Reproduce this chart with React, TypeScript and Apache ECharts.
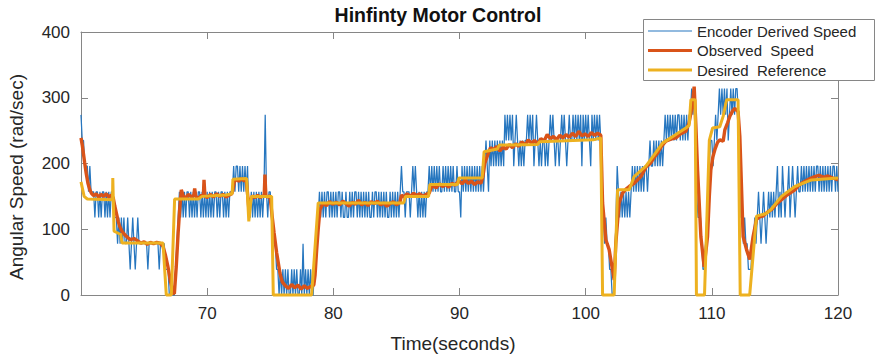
import React, { useEffect, useRef } from "react";
import * as echarts from "echarts";

const FONT = '"Liberation Sans", Arial, Helvetica, sans-serif';

const chartTitle = "Hinfinty Motor Control";
const xAxisTitle = "Time(seconds)";
const yAxisTitle = "Angular Speed (rad/sec)";
const seriesNames = ["Encoder Derived Speed", "Observed  Speed", "Desired  Reference"];
const seriesColors = ["#2676bf", "#D95319", "#EDB120"];

// Encoder derived speed: sampled every 0.1 s, one row per second (60 s ... 119.9 s)
const encoderStartTime = 60;
const encoderSampleStep = 0.1;
const encoderSpeedRows: number[][] = [
  [274, 235, 235, 196, 196, 196, 157, 196, 157, 157], // 60
  [157, 118, 157, 157, 118, 157, 118, 157, 157, 118], // 61
  [157, 118, 157, 118, 157, 157, 118, 118, 118, 78], // 62
  [118, 78, 118, 78, 118, 78, 78, 118, 78, 39], // 63
  [78, 118, 78, 39, 78, 118, 78, 78, 78, 78], // 64
  [78, 78, 78, 39, 78, 78, 78, 78, 78, 78], // 65
  [78, 78, 39, 78, 78, 78, 78, 39, 39, 39], // 66
  [0, 0, 39, 0, 0, 39, 78, 118, 157, 118], // 67
  [157, 118, 157, 118, 157, 157, 118, 157, 118, 157], // 68
  [118, 157, 118, 157, 157, 118, 157, 118, 157, 118], // 69
  [157, 118, 157, 118, 157, 118, 157, 157, 118, 157], // 70
  [118, 157, 157, 118, 157, 118, 157, 118, 157, 157], // 71
  [157, 196, 157, 196, 196, 157, 196, 157, 196, 157], // 72
  [196, 157, 196, 118, 118, 157, 118, 157, 118, 157], // 73
  [118, 157, 118, 157, 118, 157, 274, 157, 118, 157], // 74
  [157, 118, 118, 78, 78, 39, 39, 0, 39, 0], // 75
  [39, 0, 39, 0, 39, 0, 0, 39, 0, 39], // 76
  [0, 39, 0, 0, 39, 0, 78, 0, 39, 0], // 77
  [39, 0, 39, 0, 0, 39, 78, 78, 118, 157], // 78
  [118, 157, 118, 157, 118, 157, 157, 118, 157, 118], // 79
  [157, 118, 157, 118, 157, 157, 118, 157, 118, 118], // 80
  [157, 118, 118, 157, 118, 157, 118, 157, 157, 118], // 81
  [157, 118, 157, 118, 157, 118, 157, 118, 157, 118], // 82
  [118, 157, 118, 157, 157, 118, 157, 118, 157, 118], // 83
  [157, 118, 157, 118, 118, 157, 118, 157, 118, 157], // 84
  [118, 157, 118, 157, 196, 157, 157, 118, 157, 157], // 85
  [157, 118, 157, 196, 157, 196, 157, 118, 157, 118], // 86
  [157, 118, 157, 118, 157, 157, 196, 157, 196, 157], // 87
  [196, 157, 196, 157, 196, 157, 157, 196, 157, 196], // 88
  [157, 196, 157, 196, 157, 196, 157, 157, 196, 157], // 89
  [157, 118, 196, 157, 196, 157, 196, 157, 196, 157], // 90
  [196, 157, 196, 157, 196, 157, 196, 157, 196, 157], // 91
  [196, 235, 196, 157, 235, 196, 235, 196, 235, 196], // 92
  [235, 196, 235, 196, 235, 196, 274, 235, 274, 235], // 93
  [274, 235, 274, 196, 235, 274, 235, 196, 235, 196], // 94
  [235, 196, 235, 235, 274, 235, 274, 235, 274, 196], // 95
  [235, 274, 235, 196, 235, 196, 235, 235, 196, 235], // 96
  [196, 235, 274, 235, 274, 235, 196, 235, 235, 196], // 97
  [235, 274, 235, 274, 235, 196, 235, 274, 235, 235], // 98
  [274, 235, 274, 235, 274, 235, 274, 196, 274, 235], // 99
  [274, 235, 274, 235, 196, 274, 235, 274, 235, 274], // 100
  [235, 274, 235, 157, 118, 78, 118, 78, 78, 39], // 101
  [39, 0, 0, 39, 118, 196, 157, 118, 157, 118], // 102
  [157, 118, 157, 118, 157, 118, 157, 196, 157, 196], // 103
  [157, 196, 157, 196, 157, 196, 157, 196, 196, 157], // 104
  [196, 235, 196, 196, 235, 196, 235, 196, 235, 196], // 105
  [235, 196, 235, 274, 235, 274, 235, 274, 235, 274], // 106
  [235, 274, 235, 274, 274, 235, 274, 235, 274, 235], // 107
  [274, 235, 274, 274, 314, 274, 314, 235, 157, 118], // 108
  [118, 118, 78, 39, 39, 78, 118, 157, 196, 235], // 109
  [235, 196, 235, 274, 235, 274, 314, 274, 314, 274], // 110
  [314, 274, 314, 235, 274, 314, 274, 314, 274, 314], // 111
  [314, 274, 196, 118, 118, 78, 118, 78, 78, 39], // 112
  [39, 39, 78, 78, 118, 78, 118, 157, 118, 78], // 113
  [118, 157, 118, 78, 118, 157, 118, 157, 118, 157], // 114
  [118, 157, 196, 118, 157, 118, 196, 157, 118, 157], // 115
  [157, 196, 118, 157, 196, 157, 118, 157, 196, 157], // 116
  [157, 196, 157, 196, 157, 196, 157, 196, 157, 196], // 117
  [157, 196, 157, 196, 196, 157, 196, 157, 196, 157], // 118
  [196, 157, 196, 157, 196, 157, 196, 196, 157, 196], // 119
];
const encoderFinalSpeed = 157; // at 120 s

// Observed speed
const observedTime = [
  60.0, 60.1, 60.2, 60.29, 60.42, 60.55, 60.7, 60.82, 61.0, 61.2, 61.4, 61.6, 61.8, 62.0, 62.2, 62.4,
  62.55, 62.68, 62.8, 62.95, 63.07, 63.25, 63.45, 63.72, 63.95, 64.2, 64.52, 64.75, 65.0, 65.25, 65.5,
  65.75, 66.0, 66.24, 66.5, 66.7, 66.89, 67.1, 67.29, 67.4, 67.55, 67.7, 67.82, 67.95, 68.1, 68.3, 68.5,
  68.75, 68.95, 69.01, 69.1, 69.3, 69.55, 69.7, 69.75, 69.82, 70.0, 70.25, 70.5, 70.75, 71.0, 71.25,
  71.5, 71.75, 71.95, 72.04, 72.15, 72.3, 72.5, 72.7, 72.9, 73.1, 73.22, 73.31, 73.45, 73.6, 73.8, 74.0,
  74.2, 74.4, 74.52, 74.58, 74.65, 74.8, 74.98, 75.15, 75.3, 75.51, 75.77, 75.95, 76.2, 76.45, 76.7,
  76.95, 77.2, 77.45, 77.7, 77.95, 78.2, 78.45, 78.55, 78.68, 78.8, 78.94, 79.2, 79.45, 79.7, 79.95,
  80.25, 80.5, 80.75, 81.0, 81.25, 81.5, 81.75, 82.0, 82.25, 82.5, 82.75, 83.0, 83.25, 83.5, 83.75, 84.0,
  84.25, 84.5, 84.75, 85.0, 85.28, 85.4, 85.6, 85.85, 86.1, 86.36, 86.6, 86.85, 87.1, 87.35, 87.6, 87.75,
  87.9, 88.15, 88.4, 88.65, 88.9, 89.15, 89.4, 89.65, 89.95, 90.2, 90.45, 90.7, 90.95, 91.2, 91.45, 91.7,
  91.85, 92.0, 92.2, 92.45, 92.7, 92.95, 93.2, 93.45, 93.7, 93.95, 94.2, 94.45, 94.7, 94.95, 95.2, 95.45,
  95.7, 95.95, 96.2, 96.45, 96.7, 96.95, 97.2, 97.45, 97.7, 97.95, 98.2, 98.45, 98.7, 98.95, 99.2, 99.45,
  99.7, 99.95, 100.2, 100.45, 100.7, 100.95, 101.2, 101.34, 101.6, 101.86, 102.13, 102.26, 102.39,
  102.65, 102.92, 103.2, 103.45, 103.84, 104.1, 104.37, 104.8, 105.16, 105.45, 105.7, 106.0, 106.36,
  106.75, 107.15, 107.5, 107.94, 108.2, 108.35, 108.47, 108.6, 108.73, 108.87, 109.0, 109.13, 109.39,
  109.55, 109.66, 109.8, 109.92, 110.08, 110.24, 110.45, 110.63, 110.9, 111.03, 111.25, 111.43, 111.65,
  111.82, 111.95, 112.08, 112.22, 112.35, 112.48, 112.75, 112.9, 113.01, 113.27, 113.54, 113.8, 114.06,
  114.4, 114.73, 115.1, 115.52, 115.9, 116.2, 116.58, 116.85, 117.11, 117.5, 117.8, 118.16, 118.5,
  118.85, 119.2, 119.6, 120.0,
];
const observedSpeed = [
  239, 228, 214, 201, 184, 170, 160, 155, 151, 154, 149, 153, 150, 154, 149, 152,
  148, 135, 125, 112, 104, 97, 92, 87, 84, 86, 82, 79, 81, 77, 80,
  78, 80, 79, 74, 60, 43, 20, 3, 2, 43, 95, 130, 160, 151, 147, 153,
  149, 152, 162, 150, 147, 152, 150, 175, 151, 148, 153, 149, 154, 150, 153,
  149, 152, 154, 160, 172, 176, 173, 177, 174, 175, 150, 130, 145, 151, 148, 152,
  148, 151, 150, 183, 151, 149, 151, 120, 95, 64, 33, 20, 14, 10, 16,
  11, 15, 9, 14, 10, 13, 15, 30, 69, 100, 130, 140, 136, 142, 138,
  141, 137, 143, 139, 135, 141, 138, 144, 137, 141, 136, 142, 139, 143, 137, 140,
  135, 139, 142, 137, 141, 152, 149, 154, 150, 155, 151, 154, 150, 153, 155, 163,
  166, 163, 169, 165, 168, 164, 170, 167, 174, 169, 175, 170, 173, 168, 172, 170,
  180, 200, 211, 224, 221, 226, 219, 225, 222, 229, 224, 230, 226, 233, 228, 236,
  231, 235, 230, 238, 234, 244, 238, 241, 236, 243, 239, 244, 240, 246, 241, 249,
  242, 245, 241, 247, 243, 246, 243, 140, 84, 69, 38, 23, 79,
  140, 155, 161, 165, 170, 175, 180, 195, 201, 210, 216, 226, 234,
  237, 239, 245, 249, 262, 278, 292, 317, 260, 190, 140, 89, 43,
  70, 89, 150, 190, 210, 221, 232, 236, 234, 251, 262, 272, 280,
  284, 281, 279, 241, 165, 89, 69, 60, 54, 89, 115, 119, 120,
  126, 130, 138, 145, 151, 155, 160, 166, 170, 174, 177, 180, 182,
  179, 181, 178, 175,
];

// Desired reference
const referenceTime = [
  60.0, 60.25, 60.5, 62.5, 62.52, 62.62, 63.15, 63.25, 66.5, 66.76, 67.16, 67.42, 69.3, 69.6, 71.5,
  71.98, 72.04, 73.13, 73.3, 73.5, 75.11, 75.24, 78.28, 78.8, 85.57, 85.72, 87.55, 87.65, 89.85, 89.95,
  91.8, 91.95, 93.0, 93.15, 96.2, 96.35, 100.6, 101.2, 101.34, 102.26, 102.53, 103.45, 103.84, 104.77,
  105.43, 106.09, 107.15, 107.94, 108.2, 108.34, 108.68, 108.78, 109.42, 109.8, 110.06, 110.63, 110.9,
  111.17, 112.08, 112.25, 113.0, 113.54, 114.33, 114.68, 115.52, 116.58, 117.9, 120.0,
];
const referenceSpeed = [
  172, 150, 146, 145, 178, 97, 92, 79, 79, 0, 0, 146, 146, 150, 152,
  154, 176, 177, 112, 150, 150, 0, 0, 140, 140, 150, 150, 168, 168, 178,
  178, 218, 222, 228, 229, 233, 236, 239, 0, 0, 160, 160, 180, 196,
  213, 231, 244, 254, 258, 297, 297, 0, 0, 235, 254, 256, 272,
  297, 297, 0, 0, 120, 124, 130, 150, 165, 175, 178,
];

const pairs = (xs: number[], ys: number[]) => xs.map((x, i) => [x, ys[i]]);

const encoderData: number[][] = [];
encoderSpeedRows.forEach((row, r) => {
  row.forEach((v, c) => {
    const t = encoderStartTime + (r * row.length + c) * encoderSampleStep;
    encoderData.push([Number(t.toFixed(2)), v]);
  });
});
encoderData.push([120, encoderFinalSpeed]);

const AXIS_COLOR = "#868686";
const TEXT_COLOR = "#262626";

export default function App() {
  const ref = useRef<HTMLDivElement>(null);

  useEffect(() => {
    if (!ref.current) return;
    const chart = echarts.init(ref.current, undefined, { renderer: "svg" });

    const axisBase = {
      type: "value" as const,
      axisLine: { show: true, onZero: false, lineStyle: { color: AXIS_COLOR, width: 1 } },
      axisTick: { show: true, inside: true, length: 7, lineStyle: { color: AXIS_COLOR, width: 1 } },
      splitLine: { show: false },
    };

    const legendRows = [31, 50.5, 70];
    const legendGraphics: any[] = [
      {
        type: "rect",
        z: 100,
        shape: { x: 643.5, y: 19.5, width: 231, height: 61 },
        style: { fill: "#ffffff", stroke: AXIS_COLOR, lineWidth: 1 },
      },
    ];
    seriesNames.forEach((name, i) => {
      legendGraphics.push({
        type: "line",
        z: 101,
        shape: { x1: 648, y1: legendRows[i], x2: 692, y2: legendRows[i] },
        style: { stroke: seriesColors[i], lineWidth: i === 0 ? 1.2 : 3.2 },
      });
      legendGraphics.push({
        type: "text",
        z: 101,
        x: 697,
        y: legendRows[i],
        style: {
          text: name,
          fontSize: 15,
          fontFamily: FONT,
          fill: TEXT_COLOR,
          textAlign: "left",
          textVerticalAlign: "middle",
          align: "left",
          verticalAlign: "middle",
        },
      });
    });

    chart.setOption({
      animation: false,
      backgroundColor: "#ffffff",
      title: {
        text: chartTitle,
        left: "center",
        top: 5,
        padding: 0,
        textStyle: { fontSize: 19.5, fontWeight: "bold", fontFamily: FONT, color: "#111111" },
      },
      grid: { left: 81, top: 32, width: 757, height: 263, containLabel: false },
      xAxis: [
        {
          ...axisBase,
          position: "bottom",
          min: 60,
          max: 120,
          interval: 10,
          axisLabel: {
            show: true,
            fontSize: 17,
            fontFamily: FONT,
            color: TEXT_COLOR,
            margin: 10,
            formatter: (v: number) => (v === 60 ? "" : String(v)),
          },
        },
        {
          ...axisBase,
          position: "top",
          min: 60,
          max: 120,
          interval: 10,
          axisLabel: { show: false },
        },
      ],
      yAxis: [
        {
          ...axisBase,
          position: "left",
          min: 0,
          max: 400,
          interval: 100,
          axisLabel: { show: true, fontSize: 17, fontFamily: FONT, color: TEXT_COLOR, margin: 11 },
        },
        {
          ...axisBase,
          position: "right",
          min: 0,
          max: 400,
          interval: 100,
          axisLabel: { show: false },
        },
      ],
      series: [
        {
          name: seriesNames[0],
          type: "line",
          data: encoderData,
          showSymbol: false,
          symbol: "none",
          clip: false,
          z: 2,
          lineStyle: { color: seriesColors[0], width: 1.25 },
        },
        {
          name: seriesNames[1],
          type: "line",
          data: pairs(observedTime, observedSpeed),
          showSymbol: false,
          symbol: "none",
          clip: false,
          z: 3,
          lineStyle: { color: seriesColors[1], width: 3.4 },
        },
        {
          name: seriesNames[2],
          type: "line",
          data: pairs(referenceTime, referenceSpeed),
          showSymbol: false,
          symbol: "none",
          clip: false,
          z: 4,
          lineStyle: { color: seriesColors[2], width: 3 },
        },
      ],
      graphic: [
        {
          type: "text",
          x: 453,
          y: 343,
          style: {
            text: xAxisTitle,
            fontSize: 19,
            fontFamily: FONT,
            fill: TEXT_COLOR,
            textAlign: "center",
            textVerticalAlign: "middle",
            align: "center",
            verticalAlign: "middle",
          },
        },
        {
          type: "text",
          x: 16,
          y: 177,
          rotation: Math.PI / 2,
          style: {
            text: yAxisTitle,
            fontSize: 19,
            fontFamily: FONT,
            fill: TEXT_COLOR,
            textAlign: "center",
            textVerticalAlign: "middle",
            align: "center",
            verticalAlign: "middle",
          },
        },
        ...legendGraphics,
      ],
    });

    return () => chart.dispose();
  }, []);

  return (
    <div
      ref={ref}
      style={{ position: "fixed", left: 0, top: 0, width: 876, height: 356, background: "#fff" }}
    />
  );
}
